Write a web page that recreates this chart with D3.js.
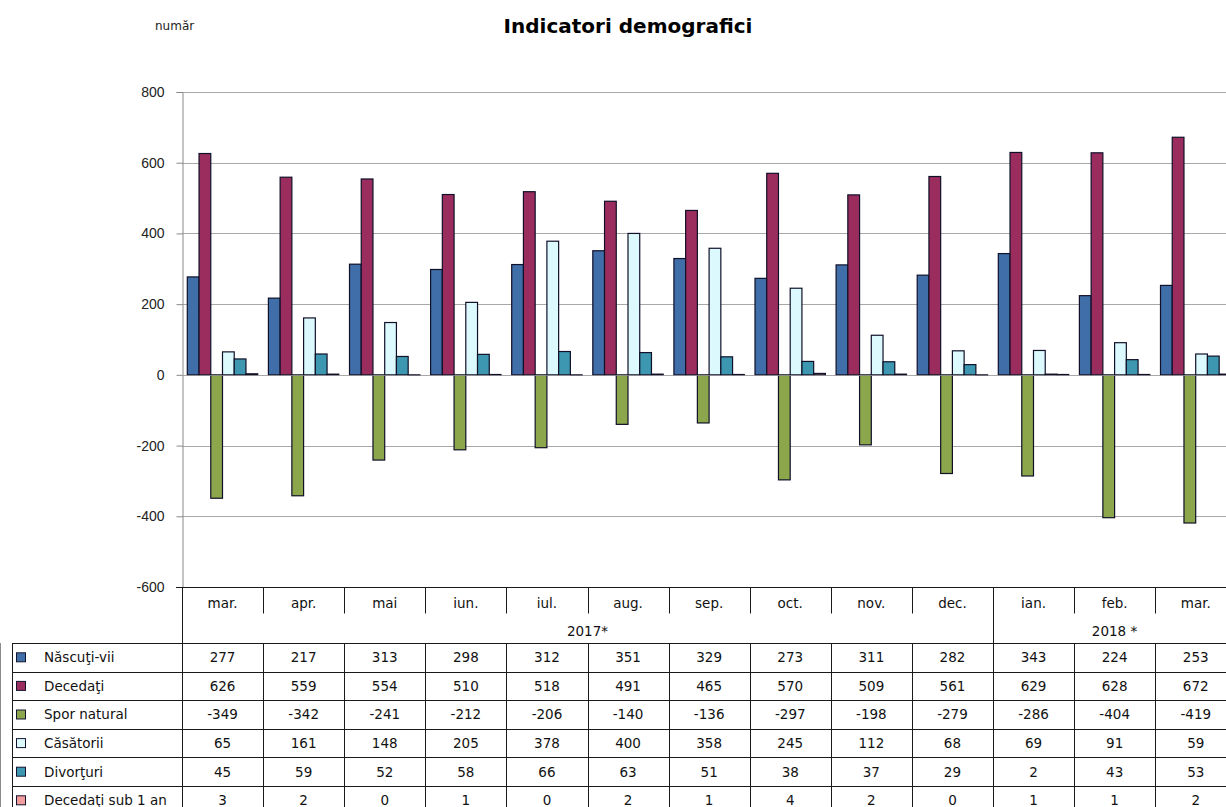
<!DOCTYPE html>
<html>
<head>
<meta charset="utf-8">
<script src="https://cdn.jsdelivr.net/npm/d3@7"></script>
<style>
  body { margin: 0; background: #fff; }
  svg { display: block; }
  text { font-family: "DejaVu Sans", sans-serif; }
</style>
</head>
<body>
<div id="chart"></div>
<script>
const width = 1226;
const height = 807;

// data
const months = ['mar.', 'apr.', 'mai', 'iun.', 'iul.', 'aug.', 'sep.', 'oct.', 'nov.', 'dec.', 'ian.', 'feb.', 'mar.'];
const years = [{label: '2017*', from: 0, to: 10}, {label: '2018 *', from: 10, to: 13}];
const seriesNames = ['Născuţi-vii', 'Decedaţi', 'Spor natural', 'Căsătorii', 'Divorţuri', 'Decedaţi sub 1 an'];
const nascuti = [277, 217, 313, 298, 312, 351, 329, 273, 311, 282, 343, 224, 253];
const decedati = [626, 559, 554, 510, 518, 491, 465, 570, 509, 561, 629, 628, 672];
const spor = [-349, -342, -241, -212, -206, -140, -136, -297, -198, -279, -286, -404, -419];
const casatorii = [65, 161, 148, 205, 378, 400, 358, 245, 112, 68, 69, 91, 59];
const divorturi = [45, 59, 52, 58, 66, 63, 51, 38, 37, 29, 2, 43, 53];
const sub1an = [3, 2, 0, 1, 0, 2, 1, 4, 2, 0, 1, 1, 2];
const yTicks = [-600, -400, -200, 0, 200, 400, 600, 800];

const seriesValues = [nascuti, decedati, spor, casatorii, divorturi, sub1an];
const colors = ['#3f6ea8', '#9b2d5e', '#8ca64c', '#dcfafd', '#3d97b1', '#f29c9c'];

const svg = d3.select('#chart')
    .append('svg')
    .attr('width', width)
    .attr('height', height);

const plotLeft = 182;
const colW = 81.1;

const x0 = d3.scaleBand()
    .domain(d3.range(months.length))
    .range([plotLeft, plotLeft + colW * months.length])
    .padding(0);

const x1 = d3.scaleBand()
    .domain(d3.range(seriesNames.length))
    .range([5.3, 75.7])
    .padding(0);

const y = d3.scaleLinear()
    .domain([-600, 800])
    .range([587, 92]);

// title + unit
svg.append('text')
    .attr('x', 628)
    .attr('y', 33)
    .attr('text-anchor', 'middle')
    .style('font-size', '20px')
    .style('font-weight', 'bold')
    .attr('fill', '#000')
    .text('Indicatori demografici');

svg.append('text')
    .attr('x', 155)
    .attr('y', 30)
    .style('font-size', '12px')
    .attr('fill', '#222')
    .text('număr');

// gridlines
svg.append('g')
    .selectAll('line')
    .data(yTicks.filter(d => d !== -600))
    .enter()
    .append('line')
    .attr('x1', plotLeft)
    .attr('x2', width)
    .attr('y1', d => Math.round(y(d)) + 0.5)
    .attr('y2', d => Math.round(y(d)) + 0.5)
    .attr('stroke', '#a8a8a8');

// y axis
const yAxis = svg.append('g')
    .attr('transform', 'translate(' + (plotLeft + 0.5) + ',0)')
    .call(d3.axisLeft(y).tickValues(yTicks).tickSize(6).tickPadding(12).tickFormat(d => String(d)));
yAxis.select('.domain').attr('stroke', '#8a8a8a');
yAxis.selectAll('.tick line').attr('stroke', '#8a8a8a');
yAxis.selectAll('.tick text')
    .style('font-family', '"Liberation Sans", Arial, sans-serif')
    .style('font-size', '14px')
    .attr('fill', '#222');

// bars
const groups = svg.append('g')
    .selectAll('g')
    .data(months.map((m, i) => i))
    .enter()
    .append('g')
    .attr('transform', i => 'translate(' + x0(i) + ',0)');

groups.selectAll('rect')
    .data(i => seriesValues.map((vals, s) => ({s: s, v: vals[i]})))
    .enter()
    .append('rect')
    .attr('x', d => x1(d.s))
    .attr('width', x1.bandwidth())
    .attr('y', d => y(Math.max(0, d.v)))
    .attr('height', d => Math.max(0.5, Math.abs(y(d.v) - y(0))))
    .attr('fill', d => colors[d.s])
    .attr('stroke', '#101028')
    .attr('stroke-width', 1.2);

// zero line over bars
svg.append('line')
    .attr('x1', plotLeft)
    .attr('x2', width)
    .attr('y1', Math.round(y(0)) + 0.5)
    .attr('y2', Math.round(y(0)) + 0.5)
    .attr('stroke', '#a8a8a8')
    .attr('stroke-opacity', 0.6);

// table
const tableTop = Math.round(y(-600)) + 0.5;
const monthRowH = 26;
const yearRowBottom = 643;
const rowH = 28.6;
const legendLeft = 12.5;
const tbl = svg.append('g');
const lineColor = '#1a1a1a';
const fs = '13.5px';

tbl.append('line')
    .attr('x1', plotLeft - 6).attr('x2', width)
    .attr('y1', tableTop).attr('y2', tableTop)
    .attr('stroke', lineColor);

// month labels
tbl.selectAll('.month')
    .data(months)
    .enter()
    .append('text')
    .attr('class', 'month')
    .attr('x', (d, i) => x0(i) + colW / 2)
    .attr('y', tableTop + 20)
    .attr('text-anchor', 'middle')
    .style('font-size', fs)
    .attr('fill', '#111')
    .text(d => d);

// short dividers in month row
tbl.selectAll('.mdiv')
    .data(d3.range(1, months.length))
    .enter()
    .append('line')
    .attr('x1', i => Math.round(x0(i)) + 0.5)
    .attr('x2', i => Math.round(x0(i)) + 0.5)
    .attr('y1', tableTop)
    .attr('y2', tableTop + monthRowH)
    .attr('stroke', lineColor);

// year labels
tbl.selectAll('.year')
    .data(years)
    .enter()
    .append('text')
    .attr('x', d => (x0(d.from) + Math.min(width, x0(d.to - 1) + colW)) / 2 + (d.to === months.length ? 5 : 0))
    .attr('y', tableTop + 48)
    .attr('text-anchor', 'middle')
    .style('font-size', fs)
    .attr('fill', '#111')
    .text(d => d.label);

tbl.selectAll('.ydiv')
    .data(years.slice(1))
    .enter()
    .append('line')
    .attr('x1', d => Math.round(x0(d.from)) + 0.5)
    .attr('x2', d => Math.round(x0(d.from)) + 0.5)
    .attr('y1', tableTop)
    .attr('y2', yearRowBottom)
    .attr('stroke', lineColor);

// left border of header rows
tbl.append('line')
    .attr('x1', plotLeft + 0.5).attr('x2', plotLeft + 0.5)
    .attr('y1', tableTop).attr('y2', height)
    .attr('stroke', lineColor);

// horizontal lines of data rows
tbl.selectAll('.hrow')
    .data(d3.range(seriesNames.length + 1))
    .enter()
    .append('line')
    .attr('x1', legendLeft)
    .attr('x2', width)
    .attr('y1', r => Math.round(yearRowBottom + r * rowH) + 0.5)
    .attr('y2', r => Math.round(yearRowBottom + r * rowH) + 0.5)
    .attr('stroke', lineColor);

// vertical lines of data rows
tbl.selectAll('.vrow')
    .data([legendLeft - 0.5].concat(d3.range(1, months.length + 1).map(i => Math.round(x0(i)))))
    .enter()
    .append('line')
    .attr('x1', d => d + 0.5)
    .attr('x2', d => d + 0.5)
    .attr('y1', yearRowBottom)
    .attr('y2', height)
    .attr('stroke', lineColor);

// legend cells
const rows = tbl.selectAll('.row')
    .data(seriesNames)
    .enter()
    .append('g')
    .attr('transform', (d, r) => 'translate(0,' + (yearRowBottom + r * rowH) + ')');

rows.append('rect')
    .attr('x', 16.5)
    .attr('y', rowH / 2 - 4.5)
    .attr('width', 9)
    .attr('height', 9)
    .attr('fill', (d, r) => colors[r])
    .attr('stroke', '#141430');

rows.append('text')
    .attr('x', 44)
    .attr('y', rowH / 2 + 5)
    .style('font-size', fs)
    .attr('fill', '#111')
    .text(d => d);

rows.selectAll('.val')
    .data((d, r) => seriesValues[r])
    .enter()
    .append('text')
    .attr('x', (v, i) => x0(i) + colW / 2)
    .attr('y', rowH / 2 + 5)
    .attr('text-anchor', 'middle')
    .style('font-size', fs)
    .attr('fill', '#111')
    .text(v => String(v));
</script>
</body>
</html>
